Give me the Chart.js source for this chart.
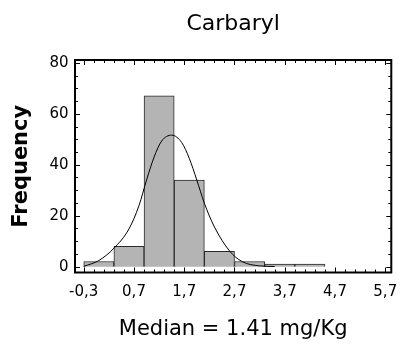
<!DOCTYPE html>
<html>
<head>
<meta charset="utf-8">
<script src="https://cdn.jsdelivr.net/npm/chart.js@4"></script>
<style>
  body { margin: 0; background: #fff; }
</style>
</head>
<body>
<canvas id="grafico" width="408" height="344"></canvas>
<script>
    // histogram bins (centre of each 0.6 wide bin) and counts
    const binCenters = [0, 0.6, 1.2, 1.8, 2.4, 3.0, 3.6, 4.2];
    const frequencies = [2, 8, 67, 34, 6, 2, 1, 1];

    // fitted curve
    const curveX = [-0.3, 0.0, 0.3, 0.6, 0.8, 0.95, 1.1, 1.25, 1.45, 1.65, 1.8, 1.95, 2.1, 2.3, 2.6, 2.85, 3.2, 3.5];
    const curveY = [0.1, 2.4, 7.2, 14.8, 24, 34, 43, 49.3, 51.6, 48.7, 42.5, 34, 24.9, 15.6, 6.2, 2.0, 0.3, 0.05];

    const xTickValues = [-0.3, 0.7, 1.7, 2.7, 3.7, 4.7, 5.7];
    const xTickLabels = ["-0,3", "0,7", "1,7", "2,7", "3,7", "4,7", "5,7"];
    const yTickValues = [0, 20, 40, 60, 80];

    const titulo = "Carbaryl";
    const tituloX = "Median = 1.41 mg/Kg";
    const tituloY = "Frequency";

    Chart.defaults.font.family = "'DejaVu Sans', sans-serif";
    Chart.defaults.color = "#000";

    // box round the plot with inward ticks on all four sides
    const moldura = {
      id: "moldura",
      afterDraw(chart) {
        const ctx = chart.ctx;
        const a = chart.chartArea;
        const sx = chart.scales.x;
        const sy = chart.scales.y;
        ctx.save();
        ctx.strokeStyle = "#000";
        ctx.lineWidth = 1;
        for (let k = 0; k <= 30; k++) {
          let v = -0.3 + k * 0.2;
          let px = Math.round(sx.getPixelForValue(v)) + 0.5;
          let len = k % 5 === 0 ? 5 : 3;
          ctx.beginPath();
          ctx.moveTo(px, a.bottom); ctx.lineTo(px, a.bottom - len);
          ctx.moveTo(px, a.top); ctx.lineTo(px, a.top + len);
          ctx.stroke();
        }
        for (let v = 0; v <= 80; v += 5) {
          let py = Math.round(sy.getPixelForValue(v)) + 0.5;
          let len = v % 20 === 0 ? 5 : 3;
          ctx.beginPath();
          ctx.moveTo(a.left, py); ctx.lineTo(a.left + len, py);
          ctx.moveTo(a.right, py); ctx.lineTo(a.right - len, py);
          ctx.stroke();
        }
        ctx.lineWidth = 2;
        ctx.strokeRect(a.left, a.top, a.right - a.left, a.bottom - a.top);
        ctx.restore();
      }
    };

    let ctx = document.getElementById("grafico").getContext("2d");

    let grafico = new Chart(ctx, {
      type: "bar",
      data: {
        datasets: [
          {
            type: "line",
            data: curveX.map((x, i) => ({ x: x, y: curveY[i] })),
            borderColor: "#000",
            borderWidth: 1,
            pointRadius: 0,
            cubicInterpolationMode: "monotone",
            fill: false,
            order: 0
          },
          {
            type: "bar",
            data: binCenters.map((x, i) => ({ x: x, y: frequencies[i] })),
            backgroundColor: "#b4b4b4",
            borderColor: "#2a2a2a",
            borderWidth: 1,
            barPercentage: 1,
            categoryPercentage: 1,
            order: 1
          }
        ]
      },
      options: {
        responsive: false,
        animation: false,
        layout: { padding: { left: 0, right: 8, top: 0, bottom: 0 } },
        plugins: {
          legend: { display: false },
          tooltip: { enabled: false },
          title: {
            display: true,
            text: titulo,
            fullSize: false,
            font: { size: 22, weight: "normal" },
            padding: { top: 11, bottom: 22.6 }
          }
        },
        scales: {
          x: {
            type: "linear",
            offset: false,
            min: -0.474,
            max: 5.82,
            grid: { display: false, drawTicks: false },
            border: { display: false },
            ticks: {
              padding: 10.5,
              font: { size: 15 },
              autoSkip: false,
              maxRotation: 0,
              callback: (v) => {
                let i = xTickValues.findIndex(t => Math.abs(t - v) < 1e-6);
                return i >= 0 ? xTickLabels[i] : "";
              }
            },
            afterBuildTicks: (s) => { s.ticks = xTickValues.map(v => ({ value: v })); },
            afterFit: (s) => { s.height = 71.5; },
            title: {
              display: true,
              text: tituloX,
              font: { size: 21 },
              padding: { top: 0, bottom: 2 }
            }
          },
          y: {
            min: -2.3,
            max: 81.1,
            grid: { display: false, drawTicks: false },
            border: { display: false },
            ticks: { padding: 6.5, font: { size: 15 } },
            afterBuildTicks: (s) => { s.ticks = yTickValues.map(v => ({ value: v })); },
            afterFit: (s) => { s.width = 75; },
            title: {
              display: true,
              text: tituloY,
              font: { size: 21, weight: "bold" },
              padding: { top: 9, bottom: 0 }
            }
          }
        }
      },
      plugins: [moldura]
    });
</script>
</body>
</html>
